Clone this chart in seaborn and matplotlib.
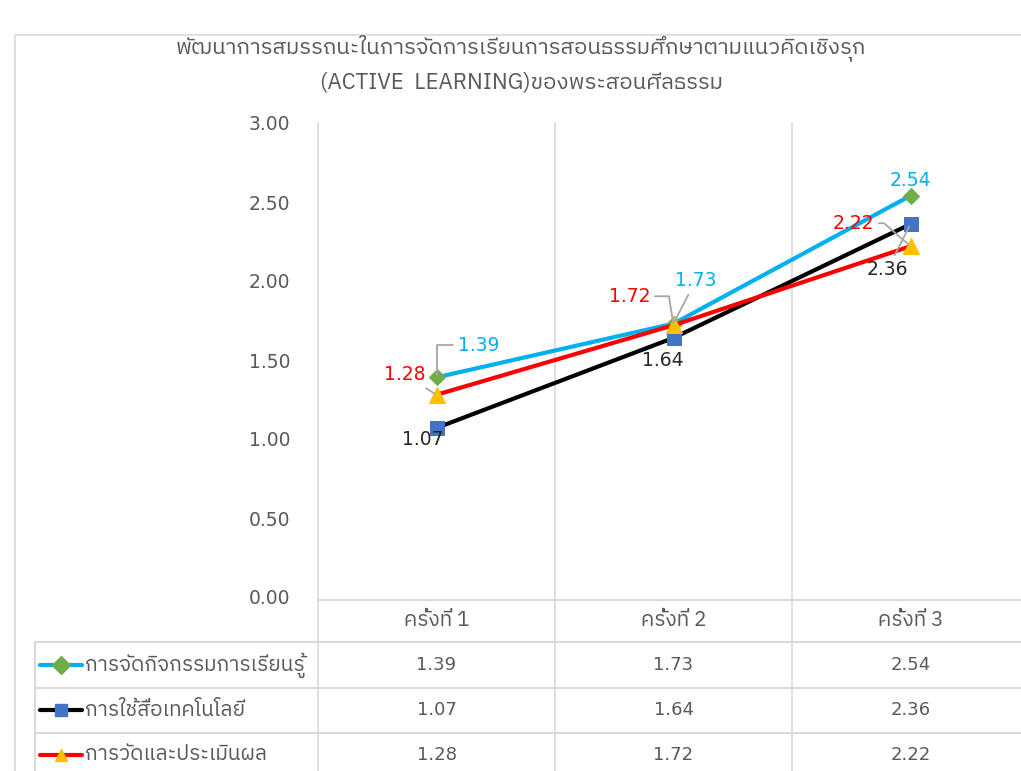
import numpy as np
import pandas as pd
import matplotlib.pyplot as plt
import matplotlib.transforms as mtransforms
from matplotlib import font_manager
from matplotlib.ft2font import FT2Font
import seaborn as sns

# ข้อมูล
rounds = ['ครั้งที่ 1', 'ครั้งที่ 2', 'ครั้งที่ 3']
series_names = ['การจัดกิจกรรมการเรียนรู้', 'การใช้สื่อเทคโนโลยี', 'การวัดและประเมินผล']
activity = [1.39, 1.73, 2.54]
media = [1.07, 1.64, 2.36]
evaluation = [1.28, 1.72, 2.22]
yticks = [0.0, 0.5, 1.0, 1.5, 2.0, 2.5, 3.0]
title_lines = ['พัฒนาการสมรรถนะในการจัดการเรียนการสอนธรรมศึกษาตามแนวคิดเชิงรุก',
               '(ACTIVE  LEARNING)ของพระสอนศีลธรรม']

all_values = [activity, media, evaluation]
line_colors = ['#00B0F0', '#000000', '#FF0000']
marker_colors = ['#70AD47', '#4472C4', '#FFC000']
markers = ['D', 's', '^']
marker_sizes = [8, 10, 11]
label_colors = ['#00B0F0', '#262626', '#FF0000']
grid_color = '#D9D9D9'
text_color = '#595959'


# หาฟอนต์ที่มีอักษรไทย
def find_thai_families():
    found = []
    for f in font_manager.fontManager.ttflist:
        try:
            cmap = FT2Font(f.fname).get_charmap()
        except Exception:
            continue
        if 0x0E01 in cmap and f.name not in found:
            found.append(f.name)
    found.sort(key=lambda n: (0 if 'Thai' in n else 1, n))
    return found


thai = find_thai_families()

sns.set_style('white')
plt.rcParams['font.family'] = ['DejaVu Sans'] + thai[:1]
thai_fam = thai[:1] + ['DejaVu Sans']

W, H = 1021, 771
fig = plt.figure(figsize=(W / 100, H / 100), dpi=100)
ax = fig.add_axes([318 / W, 1 - 597 / H, 711 / W, 474 / H])

x = np.arange(len(rounds))
for vals, name, lc, mc, mk, ms in zip(all_values, series_names, line_colors,
                                      marker_colors, markers, marker_sizes):
    df = pd.DataFrame({'x': x, 'y': vals})
    sns.lineplot(data=df, x='x', y='y', ax=ax, color=lc, lw=3, marker=mk,
                 markersize=ms, markerfacecolor=mc, markeredgecolor=mc,
                 zorder=3, legend=False)

ax.set_xlim(-0.5, 2.5)
ax.set_ylim(0, 3.0)
ax.set_yticks(yticks)
ax.set_yticklabels([f'{v:.2f}' for v in yticks], fontsize=13.5, color=text_color)
ax.tick_params(axis='y', length=0, pad=20)
ax.set_xticks([])
ax.set_xlabel('')
ax.set_ylabel('')
for s in ax.spines.values():
    s.set_visible(False)

# เส้นแนวตั้ง / ตาราง
bt = mtransforms.blended_transform_factory(ax.transData, fig.transFigure)
for xv in [-0.5, 0.5, 1.5]:
    ax.plot([xv, xv], [1 - 123 / H, 0], transform=bt, color=grid_color,
            lw=1.2, clip_on=False, zorder=1)


def fy(py):
    return 1 - py / H


fig.add_artist(plt.Line2D([318 / W, 1], [fy(600), fy(600)], color=grid_color, lw=1.5))
for py in [642, 688, 733]:
    fig.add_artist(plt.Line2D([35 / W, 1], [fy(py), fy(py)], color=grid_color, lw=1.5))
fig.add_artist(plt.Line2D([35 / W, 35 / W], [fy(642), 0], color=grid_color, lw=1.5))

# กรอบนอก
fig.add_artist(plt.Line2D([15 / W, 15 / W], [fy(35), 0], color=grid_color, lw=1.2))
fig.add_artist(plt.Line2D([15 / W, 1], [fy(35), fy(35)], color=grid_color, lw=1.2))

# หัวตาราง
for xi, r in zip(x, rounds):
    ax.text(xi, fy(620), r, transform=bt, ha='center', va='center',
            fontsize=15, color=text_color, family=thai_fam)

# แถวข้อมูล
row_y = [665, 710, 755]
for ry, vals, name, lc, mc, mk in zip(row_y, all_values, series_names,
                                      line_colors, marker_colors, markers):
    fig.add_artist(plt.Line2D([40 / W, 82 / W], [fy(ry), fy(ry)], color=lc, lw=3))
    fig.add_artist(plt.Line2D([61 / W], [fy(ry)], marker=mk, color=mc,
                              markersize=9, markeredgecolor=mc))
    fig.text(85 / W, fy(ry), name, ha='left', va='center', fontsize=15,
             color=text_color, family=thai_fam)
    for xi, v in zip(x, vals):
        ax.text(xi, fy(ry), f'{v:.2f}', transform=bt, ha='center',
                va='center', fontsize=13, color=text_color)

# ชื่อกราฟ
fig.text(521 / W, fy(48), title_lines[0], ha='center', va='center',
         fontsize=16, color=text_color, family=thai_fam)
fig.text(521 / W, fy(82), title_lines[1], ha='center', va='center',
         fontsize=16, color=text_color, family=thai_fam)

# ป้ายข้อมูล (offset เป็น pixel -> point)
px = 0.72
label_offsets = [
    [(42, 32), (22, 43), (0, 15)],
    [(-14, -12), (-11, -23), (-23, -45)],
    [(-32, 20), (-44, 29), (-57, 23)],
]
# เส้นโยงป้าย: None = ไม่มีเส้น
leader = [
    ['angle,angleA=0,angleB=90,rad=0', 'arc3', None],
    [None, None, 'arc3'],
    ['arc3', 'angle,angleA=0,angleB=99,rad=0', 'angle,angleA=0,angleB=139,rad=0'],
]
for si, (vals, col) in enumerate(zip(all_values, label_colors)):
    for xi, v in zip(x, vals):
        dx, dy = label_offsets[si][xi]
        kw = {}
        if leader[si][xi]:
            kw['arrowprops'] = dict(arrowstyle='-', color='#A6A6A6', lw=1.3,
                                    connectionstyle=leader[si][xi],
                                    shrinkA=1, shrinkB=2)
        ax.annotate(f'{v:.2f}', xy=(xi, v), xytext=(dx * px, dy * px),
                    textcoords='offset points', ha='center', va='center',
                    fontsize=13.5, color=col, zorder=5, **kw)

fig.savefig('out.png', dpi=100)
